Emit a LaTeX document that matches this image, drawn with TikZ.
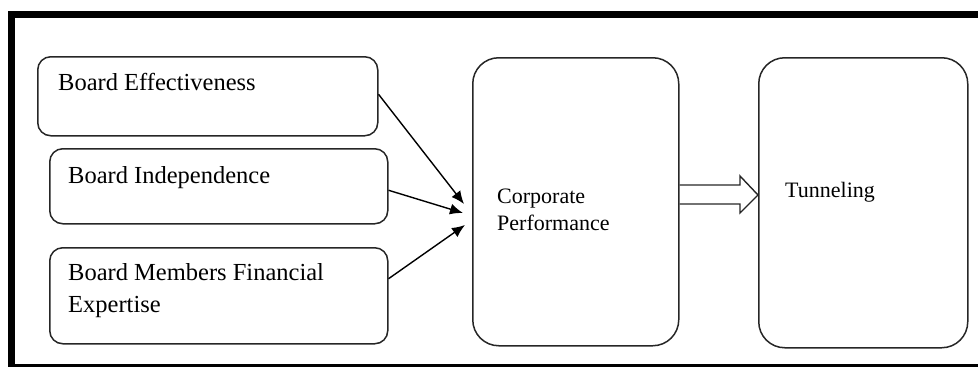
\documentclass[tikz,border=0pt]{standalone}
\usepackage{fontspec}
\setmainfont{Liberation Serif}
\usetikzlibrary{arrows.meta,calc}
\begin{document}
\begin{tikzpicture}[x=1pt,y=-1pt,
  smallbox/.style={draw=black!85, line width=1.5pt, rounded corners=13pt, anchor=north west, inner sep=0pt},
  bigbox/.style={draw=black!85, line width=1.5pt, rounded corners=26pt, anchor=north west, inner sep=0pt},
  lbl/.style={anchor=base west, inner sep=0pt, font=\fontsize{24.5}{30}\selectfont},
  slbl/.style={anchor=base west, inner sep=0pt, font=\fontsize{22}{27}\selectfont},
  arr/.style={line width=1.4pt, black, -{Latex[length=13pt,width=11pt]}},
  frame/.style={line width=7pt, black}]
\useasboundingbox (0,0) rectangle (978,367);
\clip (0,0) rectangle (978,367);
% outer frame
\draw[frame] (11.5,14.5) rectangle (1000,367);
% boxes
\node[smallbox, minimum width=340pt, minimum height=79pt] (b1) at (37,56) {};
\node[smallbox, minimum width=338pt, minimum height=75pt] (b2) at (49,148) {};
\node[smallbox, minimum width=338pt, minimum height=96pt] (b3) at (49,247) {};
\node[bigbox, minimum width=206pt, minimum height=288pt] (corp) at (472,57) {};
\node[bigbox, minimum width=209pt, minimum height=290pt] (tun) at (758,57) {};
% texts
\node[lbl] (t1) at (58,90) {Board Effectiveness};
\node[lbl] (t2) at (68,183) {Board Independence};
\node[lbl] (t3a) at (68,280) {Board Members Financial};
\node[lbl] (t3b) at (68,312) {Expertise};
\node[slbl] (tc1) at (497,203) {Corporate};
\node[slbl] (tc2) at (497,230) {Performance};
\node[slbl] (tt) at (785,197) {Tunneling};
% thin arrows
\coordinate (e1) at (464,204);
\coordinate (e2) at (463,213);
\coordinate (e3) at (465,225);
\draw[arr] ($(b1.east)+(0,-2)$) -- (e1);
\draw[arr] ($(b2.east)+(0,4)$) -- (e2);
\draw[arr] ($(b3.east)+(0,-17)$) -- (e3);
% block arrow
\coordinate (hu) at (0,185);
\coordinate (hl) at (0,204);
\coordinate (ht) at (0,195);
\draw[line width=1.4pt, black!85, line join=miter]
  (corp.east |- hu) -- (740,185) -- (740,176) -- (tun.west |- ht) -- (740,213) -- (740,204) -- (corp.east |- hl);
\end{tikzpicture}
\end{document}
